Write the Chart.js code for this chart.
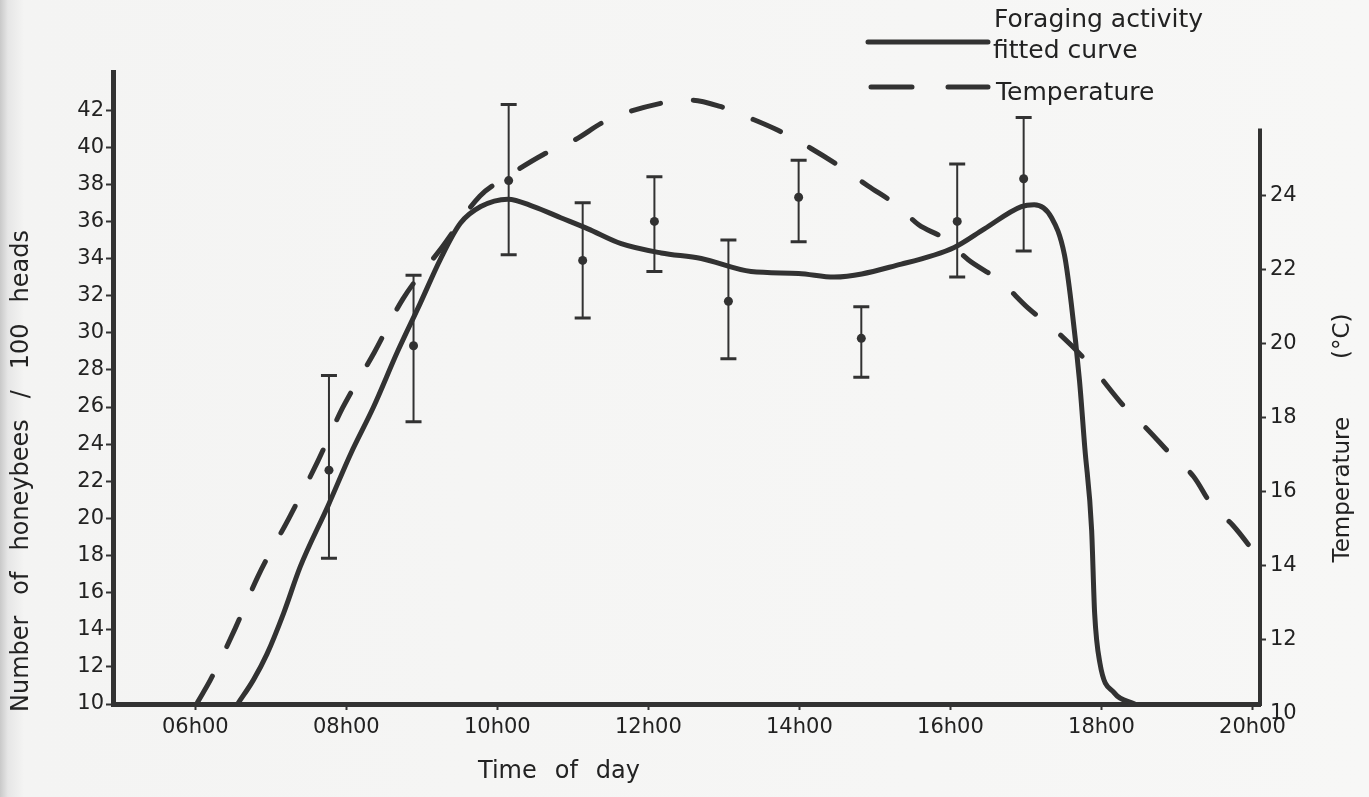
<!DOCTYPE html>
<html lang="en">
<head>
  <meta charset="UTF-8" />
  <title>Foraging activity and temperature</title>
  <script src="https://cdn.jsdelivr.net/npm/chart.js"></script>
  <style>
    html, body { margin: 0; padding: 0; }
    body {
      width: 1369px; height: 797px; overflow: hidden;
      background: linear-gradient(to right, #c9c9c9 0px, #e6e6e6 8px, #f4f4f3 24px, #f7f7f6 100%);
    }
    #wrap { position: relative; width: 1369px; height: 797px; }
  </style>
</head>
<body>
  <div id="wrap"><canvas id="grafico"></canvas></div>

  <script>
    // fitted foraging curve (hour of day, honeybees / 100 heads)
    const fitHours = [6.56, 6.77, 6.95, 7.17, 7.39, 7.76, 8.06, 8.36, 8.68, 8.98, 9.25, 9.51, 9.78, 10.14, 10.48, 10.84, 11.2, 11.64, 12.17, 12.7, 13.36, 13.99, 14.46, 15.35, 16.05, 16.45, 16.94, 17.11, 17.34, 17.51, 17.6, 17.71, 17.78, 17.87, 17.91, 17.98, 18.17, 18.44];
    const fitBees  = [10, 11.3, 12.7, 14.9, 17.4, 20.7, 23.5, 26.0, 29.0, 31.6, 34.0, 35.9, 36.8, 37.2, 36.8, 36.2, 35.6, 34.8, 34.3, 34.0, 33.3, 33.2, 33.0, 33.7, 34.6, 35.6, 36.8, 36.9, 36.2, 34.2, 31.6, 27.4, 23.8, 19.4, 14.9, 12.2, 10.6, 10.0];

    // air temperature (hour, °C)
    const tempHours = [6.03, 6.2, 6.53, 6.83, 7.26, 7.62, 7.95, 8.37, 8.75, 9.27, 9.77, 10.13, 10.61, 11.03, 11.43, 12.2, 12.56, 12.95, 13.35, 13.71, 14.15, 14.52, 14.91, 15.31, 15.58, 15.91, 16.24, 16.66, 17.03, 17.39, 17.83, 18.32, 18.62, 18.94, 19.22, 19.47, 19.74, 20.08];
    const tempC     = [10.3, 10.9, 12.3, 13.7, 15.35, 16.8, 18.25, 19.75, 21.2, 22.6, 23.98, 24.5, 25.1, 25.5, 26.0, 26.5, 26.57, 26.4, 26.08, 25.76, 25.27, 24.8, 24.25, 23.7, 23.2, 22.84, 22.25, 21.68, 20.95, 20.35, 19.46, 18.25, 17.65, 16.95, 16.4, 15.6, 15.08, 14.2];

    // observed means with standard error
    const obsHours = [7.77, 8.89, 10.15, 11.13, 12.08, 13.06, 13.99, 14.82, 16.09, 16.97];
    const obsMean  = [22.6, 29.3, 38.2, 33.9, 36.0, 31.7, 37.3, 29.7, 36.0, 38.3];
    const obsLow   = [17.85, 25.2, 34.2, 30.8, 33.3, 28.6, 34.9, 27.6, 33.0, 34.4];
    const obsHigh  = [27.7, 33.1, 42.3, 37.0, 38.4, 35.0, 39.3, 31.4, 39.1, 41.6];

    const hourTicks = [6, 8, 10, 12, 14, 16, 18, 20];
    const beeTicks  = [10, 12, 14, 16, 18, 20, 22, 24, 26, 28, 30, 32, 34, 36, 38, 40, 42];
    const tempTicks = [10, 12, 14, 16, 18, 20, 22, 24];

    const INK = '#323232';
    const TXT = '#222';
    const FONT = '"DejaVu Sans", sans-serif';

    function pts(xs, ys) {
      return xs.map((x, i) => ({ x: x, y: ys[i] }));
    }

    // spreads the words over a given length, centred on (0,0)
    function spreadText(ctx, words, length) {
      const widths = words.map(w => ctx.measureText(w).width);
      const sum = widths.reduce((a, b) => a + b, 0);
      const gap = Math.max(8, (length - sum) / (words.length - 1));
      let x = -(sum + gap * (words.length - 1)) / 2;
      ctx.textAlign = 'left';
      words.forEach((w, i) => {
        ctx.fillText(w, x, 0);
        x += widths[i] + gap;
      });
    }

    const errorBars = {
      id: 'errorBars',
      afterDatasetsDraw(chart) {
        const ctx = chart.ctx;
        const xs = chart.scales.x, ys = chart.scales.y;
        ctx.save();
        ctx.strokeStyle = INK;
        obsHours.forEach((h, i) => {
          const x = xs.getPixelForValue(h);
          const y1 = ys.getPixelForValue(obsLow[i]);
          const y2 = ys.getPixelForValue(obsHigh[i]);
          ctx.lineWidth = 2;
          ctx.beginPath();
          ctx.moveTo(x, y1); ctx.lineTo(x, y2);
          ctx.stroke();
          ctx.lineWidth = 3;
          ctx.beginPath();
          ctx.moveTo(x - 8, y1); ctx.lineTo(x + 8, y1);
          ctx.moveTo(x - 8, y2); ctx.lineTo(x + 8, y2);
          ctx.stroke();
        });
        ctx.restore();
      }
    };

    const decorations = {
      id: 'decorations',
      afterDraw(chart) {
        const ctx = chart.ctx;
        const area = chart.chartArea;
        const t = chart.scales.y2;
        ctx.save();

        // right-hand temperature axis, stops just under 26 °C
        ctx.strokeStyle = INK;
        ctx.lineWidth = 4;
        ctx.beginPath();
        ctx.moveTo(area.right, area.bottom + 2);
        ctx.lineTo(area.right, t.getPixelForValue(25.8));
        ctx.stroke();

        ctx.fillStyle = TXT;
        ctx.textBaseline = 'middle';

        // axis titles
        ctx.font = '24px ' + FONT;
        ctx.save();
        ctx.translate(22, 471);
        ctx.rotate(-Math.PI / 2);
        spreadText(ctx, ['Number', 'of', 'honeybees', '/', '100', 'heads'], 482);
        ctx.restore();

        ctx.font = '23px ' + FONT;
        ctx.save();
        ctx.translate(1343, 438);
        ctx.rotate(-Math.PI / 2);
        spreadText(ctx, ['Temperature', '(°C)'], 249);
        ctx.restore();

        ctx.font = '24px ' + FONT;
        ctx.save();
        ctx.translate(559, 772);
        spreadText(ctx, ['Time', 'of', 'day'], 162);
        ctx.restore();

        // legend
        ctx.lineWidth = 5;
        ctx.lineCap = 'round';
        ctx.beginPath();
        ctx.moveTo(868, 42); ctx.lineTo(988, 42);
        ctx.moveTo(871, 87); ctx.lineTo(912, 87);
        ctx.moveTo(948, 87); ctx.lineTo(988, 87);
        ctx.stroke();

        ctx.font = '25px ' + FONT;
        ctx.textAlign = 'left';
        ctx.fillText('Foraging activity', 994, 20);
        ctx.fillText('fitted curve', 993, 51);
        ctx.fillText('Temperature', 996, 93);
        ctx.restore();
      }
    };

    const ctx = document.getElementById('grafico').getContext('2d');
    new Chart(ctx, {
      type: 'line',
      data: {
        datasets: [
          {
            label: 'Foraging activity fitted curve',
            data: pts(fitHours, fitBees),
            yAxisID: 'y',
            borderColor: INK,
            borderWidth: 5,
            pointRadius: 0,
            cubicInterpolationMode: 'monotone'
          },
          {
            label: 'Temperature',
            data: pts(tempHours, tempC),
            yAxisID: 'y2',
            borderColor: INK,
            borderWidth: 5,
            borderDash: [30, 33],
            borderCapStyle: 'round',
            pointRadius: 0,
            cubicInterpolationMode: 'monotone'
          },
          {
            label: 'Observed',
            data: pts(obsHours, obsMean),
            yAxisID: 'y',
            showLine: false,
            pointRadius: 4.5,
            pointBackgroundColor: INK,
            pointBorderWidth: 0
          }
        ]
      },
      options: {
        responsive: true,
        maintainAspectRatio: false,
        animation: false,
        layout: { padding: { top: 72, left: 0, right: 0, bottom: 0 } },
        plugins: { legend: { display: false }, tooltip: { enabled: false } },
        scales: {
          x: {
            type: 'linear',
            min: 4.91,
            max: 20.1,
            afterBuildTicks: s => { s.ticks = hourTicks.map(v => ({ value: v })); },
            afterFit: s => { s.height = 93; },
            ticks: {
              autoSkip: false,
              maxRotation: 0,
              padding: 5,
              color: TXT,
              font: { family: FONT, size: 21 },
              callback: v => (v < 10 ? '0' : '') + v + 'h00'
            },
            grid: { drawOnChartArea: false, tickLength: 6, tickWidth: 2, tickColor: INK },
            border: { color: INK, width: 5 }
          },
          y: {
            position: 'left',
            min: 10,
            max: 44.05,
            afterBuildTicks: s => { s.ticks = beeTicks.map(v => ({ value: v })); },
            afterFit: s => { s.width = 113; },
            ticks: {
              padding: 2,
              color: TXT,
              font: { family: FONT, size: 21 }
            },
            grid: { drawOnChartArea: false, tickLength: 7, tickWidth: 2, tickColor: INK },
            border: { color: INK, width: 5 }
          },
          y2: {
            position: 'right',
            min: 10.25,
            max: 27.33,
            afterBuildTicks: s => { s.ticks = tempTicks.map(v => ({ value: v })); },
            afterFit: s => { s.width = 109; },
            ticks: {
              padding: 4,
              color: TXT,
              font: { family: FONT, size: 21 }
            },
            grid: {
              drawOnChartArea: false,
              tickLength: 6,
              tickWidth: 2,
              tickColor: c => (c.tick && c.tick.value === 10 ? 'rgba(0,0,0,0)' : INK)
            },
            border: { display: false }
          }
        }
      },
      plugins: [errorBars, decorations]
    });
  </script>
</body>
</html>
